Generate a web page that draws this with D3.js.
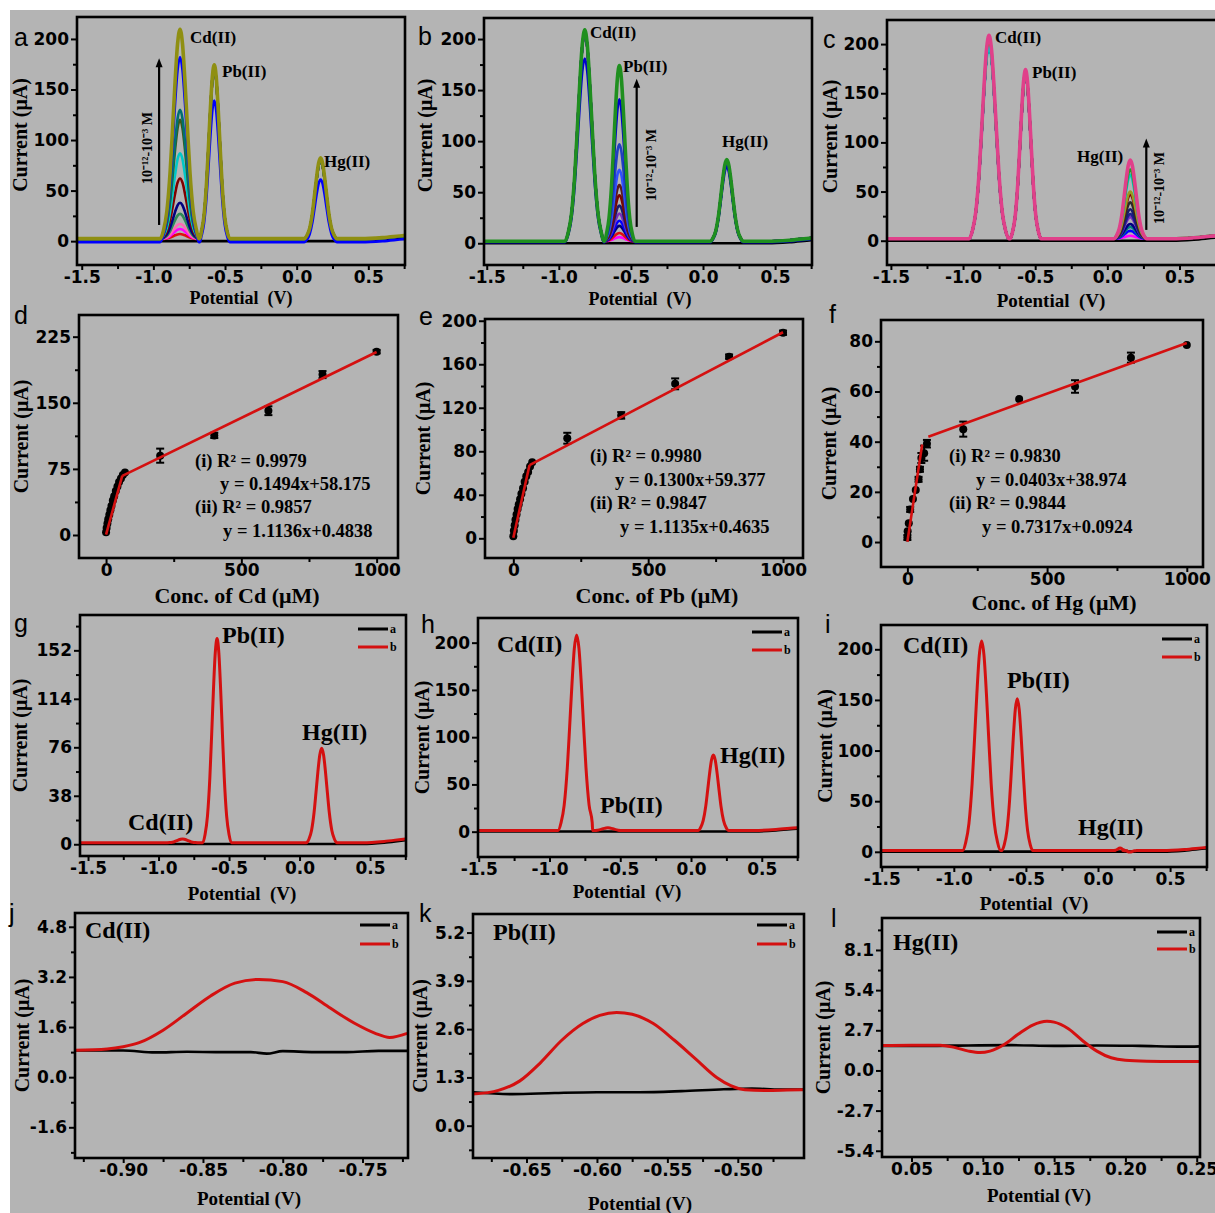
<!DOCTYPE html>
<html><head><meta charset="utf-8">
<script src="https://cdn.jsdelivr.net/npm/d3@7"></script>
<style>body{margin:0;background:#fff} svg{display:block} text{white-space:pre}</style>
</head><body>
<script>
// ================= DATA =================
// Shared square-wave peak shape (offset in V, relative height)
const peakDV  = [-0.12,-0.10,-0.08,-0.06,-0.045,-0.03,-0.015,0,0.015,0.03,0.045,0.06,0.08,0.10,0.12];
const peakRel = [0,0.04,0.13,0.32,0.53,0.75,0.93,1,0.93,0.75,0.53,0.32,0.13,0.04,0];
const tailX    = [0.45, 0.60, 0.75, 0.80];
const tailRise = [0, 1, 3, 3.5];

// Panel a : Cd(II) concentration series (peaks: Cd, Pb, Hg)
const aCenters = [-0.814, -0.575, 0.167];
const aWidths  = [1.15, 0.9, 0.95];
const aColors  = ["#000000","#e01010","#ff00ff","#ff69b4","#2e8b57","#000080","#800000","#00c8c8","#3a5a1a","#007070","#0000ff","#8f8f12"];
const aCd      = [0, 5, 10, 15, 25, 36, 60, 85, 118, 128, 183, 207];
const aPb      = [0, 170,170,170,170,170,170,170,170,170,140,172];
const aHg      = [0, 78, 78, 78, 78, 78, 78, 78, 78, 78, 62, 80];
const aBase    = [0, 2, 2, 2, 2, 2, 2, 2, 2, 2, -1, 2.5];

// Panel b : Pb(II) concentration series
const bCenters = [-0.82, -0.58, 0.165];
const bWidths  = [1.15, 0.9, 0.95];
const bColors  = ["#000000","#ff00ff","#e01010","#000080","#0000ff","#7b2fbe","#191970","#800000","#5c1a1a","#3050ff","#2040c0","#0000cd","#1f8f1f"];
const bCd      = [0, 205,205,205,205,205,205,205,205,205,205,180,207];
const bPb      = [0, 4, 8, 15, 20, 27, 35, 45, 55, 70, 95, 140, 172];
const bHg      = [0, 78, 78, 78, 78, 78, 78, 78, 78, 78, 78, 74, 80];
const bBase    = [0, 2, 2, 2, 2, 2, 2, 2, 2, 2, 2, 1, 2];

// Panel c : Hg(II) concentration series
const cCenters = [-0.82, -0.567, 0.159];
const cWidths  = [1.15, 0.9, 0.95];
const cColors  = ["#000000","#ff00ff","#0000ff","#008080","#000080","#7b2fbe","#1e1e8c","#191970","#2a2a2a","#800000","#9a9a20","#00c8c8","#22a022","#e0408a"];
const cCd      = [0, 200,200,200,200,200,200,200,200,200,200,195,205,207];
const cPb      = [0, 168,168,168,168,168,168,168,168,168,168,168,170,172];
const cHg      = [0, 3, 8, 12, 15, 22, 25, 30, 37, 45, 48, 65, 70, 80];
const cBase    = [0, 2, 2, 2, 2, 2, 2, 2, 2, 2, 2, 2, 2.5, 2];

// Arrows + concentration label (x in V, y from..to in µA)
const arrowX   = [-0.96, -0.46, 0.27];
const arrowY0  = [16, 16, 11];
const arrowY1  = [181, 161, 104];
const concLabel = "10⁻¹²-10⁻³ M";

// Panels d–f : calibration points
const dConc = [0,2,5,8,12,16,20,25,30,36,42,48,55,62,70,200,400,600,800,1000];
const dCur  = [3,8,13,18,23,28,33,39,44,50,55,60,64,68,71,90,113,141,182,208];
const dErr  = [0,0,0,0,0,0,0,0,0,0,0,0,0,0,0,8,3,5,4,2];
const dFitX = [[0,60],[60,1000]];
const dFitY = [[0.5,67.3],[67.1,207.6]];
const dEq   = ["(i) R² = 0.9979","y = 0.1494x+58.175","(ii) R² = 0.9857","y = 1.1136x+0.4838"];

const eConc = [0,2,5,8,12,16,20,25,30,36,42,48,55,62,70,200,400,600,800,1000];
const eCur  = [2,7,12,17,22,27,31,36,41,46,52,57,61,66,70,92,113,142,167,189];
const eErr  = [0,0,0,0,0,0,0,0,0,0,0,0,0,0,0,5,3,5,2,2];
const eFitX = [[0,60],[60,1000]];
const eFitY = [[0.5,67.3],[67.2,189.4]];
const eEq   = ["(i) R² = 0.9980","y = 0.1300x+59.377","(ii) R² = 0.9847","y = 1.1135x+0.4635"];

const fConc = [0,1,5,10,20,30,40,45,50,60,70,200,400,600,800,1000];
const fCur  = [1.8,4.3,7.5,13,17.2,20.7,25,29,33.5,35.4,39.2,45,57,62,73.5,78.5];
const fErr  = [1,0,0,1,0,0,1,1,2,3,1.5,3,0,2.5,2,0];
const fFitX = [[0,53],[75,1000]];
const fFitY = [[0.1,38.9],[42,79.3]];
const fEq   = ["(i) R² = 0.9830","y = 0.0403x+38.974","(ii) R² = 0.9844","y = 0.7317x+0.0924"];

// Panels g–i : interference tests (curve a = black blank, curve b = red)
const gCenters = [-0.83, -0.585, 0.157]; const gWidths = [0.9, 0.85, 0.9]; const gRed = [3, 160, 74];
const hCenters = [-0.808, -0.587, 0.158]; const hWidths = [1.1, 0.9, 0.9]; const hRed = [207, 3, 80];
const iCenters = [-0.807, -0.56, 0.153, 0.22]; const iWidths = [1.1, 0.9, 0.4, 0.4]; const iRed = [207, 150, 2.5, -1.5];
const ghiRedBase = 1.2, ghiBlackBase = 0.2;

// Panels j–l : zoomed peaks
const jBlackX = [-0.93,-0.9,-0.88,-0.86,-0.84,-0.82,-0.81,-0.8,-0.78,-0.76,-0.74,-0.722];
const jBlackY = [0.85,0.85,0.79,0.81,0.8,0.8,0.75,0.83,0.8,0.8,0.84,0.84];
const jRedX = [-0.93,-0.91,-0.9,-0.89,-0.875,-0.86,-0.845,-0.83,-0.815,-0.80,-0.785,-0.77,-0.755,-0.742,-0.733,-0.722];
const jRedY = [0.86,0.9,0.97,1.1,1.5,2.05,2.6,3.0,3.12,3.05,2.7,2.2,1.72,1.4,1.27,1.4];

const kBlackX = [-0.688,-0.66,-0.63,-0.6,-0.57,-0.54,-0.51,-0.49,-0.47,-0.453];
const kBlackY = [0.9,0.85,0.88,0.9,0.9,0.93,0.98,1.0,0.97,0.97];
const kRedX = [-0.688,-0.67,-0.655,-0.64,-0.625,-0.61,-0.598,-0.586,-0.575,-0.56,-0.545,-0.53,-0.515,-0.505,-0.495,-0.48,-0.465,-0.453];
const kRedY = [0.85,0.95,1.2,1.7,2.3,2.75,2.97,3.05,3.0,2.75,2.3,1.8,1.3,1.08,0.97,0.95,0.96,0.97];

const lBlackX = [0.029,0.06,0.09,0.12,0.15,0.18,0.21,0.24,0.2523];
const lBlackY = [1.65,1.65,1.68,1.7,1.65,1.68,1.65,1.6,1.62];
const lRedX = [0.029,0.05,0.07,0.08,0.09,0.098,0.105,0.115,0.125,0.135,0.145,0.15,0.16,0.17,0.18,0.19,0.2,0.215,0.235,0.2523];
const lRedY = [1.68,1.7,1.7,1.55,1.3,1.2,1.3,1.75,2.45,3.05,3.3,3.25,2.8,2.0,1.3,0.85,0.68,0.62,0.6,0.6];

// Tick values
const potTicks = [-1.5,-1,-0.5,0,0.5], potMinor = [-1.25,-0.75,-0.25,0.25,0.75];
const i200 = [0,50,100,150,200], i200m = [25,75,125,175];
const concTicks = [0,500,1000], concMinor = [250,750];

// ================= DRAWING =================
const W = 1215, H = 1213;
const BG = "#b4b4b4";
const TICKFONT = "'DejaVu Sans', sans-serif";
const SERIF = "'Liberation Serif','Times New Roman',serif";
const SANS = "'Liberation Sans', Arial, sans-serif";
const RED = "#d41010";

const svg = d3.select("body").append("svg").attr("width", W).attr("height", H);
svg.append("rect").attr("width", W).attr("height", H).attr("fill", "#fff");
svg.append("rect").attr("x", 10).attr("y", 10).attr("width", W - 10).attr("height", H - 10).attr("fill", BG);

let clipN = 0;
function panel(o) {
  const x = d3.scaleLinear().domain(o.xd).range([o.l, o.r]);
  const y = d3.scaleLinear().domain(o.yd).range([o.b, o.t]);
  const id = "clip" + (clipN++);
  svg.append("clipPath").attr("id", id).append("rect")
    .attr("x", o.l).attr("y", o.t).attr("width", o.r - o.l).attr("height", o.b - o.t);
  const ax = svg.append("g");
  ax.append("g").attr("transform", `translate(0,${o.b})`)
    .call(d3.axisBottom(x).tickValues(o.xMinor).tickSize(4).tickFormat(""));
  ax.append("g").attr("transform", `translate(${o.l},0)`)
    .call(d3.axisLeft(y).tickValues(o.yMinor).tickSize(4).tickFormat(""));
  ax.append("g").attr("transform", `translate(0,${o.b})`)
    .call(d3.axisBottom(x).tickValues(o.xTicks).tickSize(5).tickPadding(1).tickFormat(o.xFmt));
  ax.append("g").attr("transform", `translate(${o.l},0)`)
    .call(d3.axisLeft(y).tickValues(o.yTicks).tickSize(6).tickPadding(2).tickFormat(o.yFmt));
  ax.selectAll(".domain").remove();
  ax.selectAll(".tick line").attr("stroke", "#000").attr("stroke-width", 2);
  ax.selectAll(".tick text").attr("font-family", TICKFONT).attr("font-weight", "bold")
    .attr("font-size", 17).attr("fill", "#000");
  const plot = svg.append("g").attr("clip-path", `url(#${id})`);
  svg.append("rect").attr("x", o.l).attr("y", o.t).attr("width", o.r - o.l).attr("height", o.b - o.t)
    .attr("fill", "none").attr("stroke", "#000").attr("stroke-width", 2.6);
  // axis titles
  svg.append("text").attr("x", o.xtX).attr("y", o.xtY).attr("text-anchor", "middle")
    .attr("font-family", SERIF).attr("font-weight", "bold").attr("font-size", o.xtSize || 19)
    .text(o.xTitle);
  svg.append("text").attr("transform", `translate(${o.ytX},${(o.t + o.b) / 2 + (o.ytDy || 0)}) rotate(-90)`)
    .attr("text-anchor", "middle").attr("dy", "0.35em")
    .attr("font-family", SERIF).attr("font-weight", "bold").attr("font-size", 20)
    .text("Current (μA)");
  // panel letter
  svg.append("text").attr("x", o.letX).attr("y", o.letY).attr("font-family", SANS)
    .attr("font-size", 25).text(o.letter);
  return { x, y, plot };
}

const f1 = d => d.toFixed(1), f0 = d => d.toFixed(0), f2 = d => d.toFixed(2);
const lineGen = (p) => d3.line().x(d => p.x(d[0])).y(d => p.y(d[1])).curve(d3.curveMonotoneX);

function swvCurve(centers, widths, heights, base, x0) {
  const pts = [[x0, base]];
  centers.forEach((c, i) => {
    if (!heights[i]) return;
    peakDV.forEach((dv, j) => pts.push([c + dv * widths[i], base + heights[i] * peakRel[j]]));
  });
  tailX.forEach((tx, j) => pts.push([tx, base + tailRise[j]]));
  pts.sort((p, q) => p[0] - q[0]);
  return pts;
}

function label(x, y, txt, size) {
  svg.append("text").attr("x", x).attr("y", y).attr("font-family", SERIF)
    .attr("font-weight", "bold").attr("font-size", size).text(txt);
}

// ---------- Row 1 : a, b, c ----------
function seriesPanel(p, centers, widths, colors, c1, c2, c3, base) {
  colors.forEach((col, k) => {
    const pts = swvCurve(centers, widths, [c1[k], c2[k], c3[k]], base[k], -1.6);
    p.plot.append("path").attr("d", lineGen(p)(pts)).attr("fill", "none")
      .attr("stroke", col).attr("stroke-width", k === colors.length - 1 ? 3.6 : 2.6)
      .attr("stroke-linejoin", "round");
  });
}
function arrow(p, i, tx, ty) {
  const X = p.x(arrowX[i]), Y0 = p.y(arrowY0[i]), Y1 = p.y(arrowY1[i]);
  svg.append("line").attr("x1", X).attr("x2", X).attr("y1", Y0).attr("y2", Y1 + 6)
    .attr("stroke", "#000").attr("stroke-width", 2.2);
  svg.append("path").attr("d", `M${X},${Y1} L${X - 3.5},${Y1 + 9} L${X + 3.5},${Y1 + 9} Z`).attr("fill", "#000");
  svg.append("text").attr("transform", `translate(${tx},${ty}) rotate(-90)`).attr("text-anchor", "middle")
    .attr("dy", "0.35em").attr("font-family", SERIF).attr("font-weight", "bold").attr("font-size", 14)
    .text(concLabel);
}

const pa = panel({ l: 77, t: 17, r: 405, b: 265, xd: [-1.533, 0.756], yd: [-23.6, 221.7],
  xTicks: potTicks, xMinor: potMinor, yTicks: i200, yMinor: i200m, xFmt: f1, yFmt: f0,
  xTitle: "Potential  (V)", xtSize: 18, xtX: 241, xtY: 304, ytX: 20, ytDy: -6, letter: "a", letX: 14, letY: 46 });
seriesPanel(pa, aCenters, aWidths, aColors, aCd, aPb, aHg, aBase);
arrow(pa, 0, 147, 148);
label(190, 43, "Cd(II)", 17); label(222, 77, "Pb(II)", 17); label(324, 167, "Hg(II)", 17);

const pb = panel({ l: 484, t: 18, r: 812, b: 265, xd: [-1.519, 0.756], yd: [-21.3, 220.6],
  xTicks: potTicks, xMinor: potMinor, yTicks: i200, yMinor: i200m, xFmt: f1, yFmt: f0,
  xTitle: "Potential  (V)", xtSize: 18, xtX: 640, xtY: 305, ytX: 425, ytDy: -6, letter: "b", letX: 418, letY: 45 });
seriesPanel(pb, bCenters, bWidths, bColors, bCd, bPb, bHg, bBase);
arrow(pb, 1, 651, 165);
label(590, 38, "Cd(II)", 17); label(623, 72, "Pb(II)", 17); label(722, 147, "Hg(II)", 17);

const pc = panel({ l: 887, t: 20, r: 1217, b: 265, xd: [-1.527, 0.76], yd: [-24.7, 224.5],
  xTicks: potTicks, xMinor: potMinor, yTicks: i200, yMinor: i200m, xFmt: f1, yFmt: f0,
  xTitle: "Potential  (V)", xtX: 1051, xtY: 307, ytX: 830, ytDy: -6, letter: "c", letX: 823, letY: 48 });
seriesPanel(pc, cCenters, cWidths, cColors, cCd, cPb, cHg, cBase);
arrow(pc, 2, 1159, 188);
label(995, 43, "Cd(II)", 17); label(1032, 78, "Pb(II)", 17); label(1077, 162, "Hg(II)", 17);

// ---------- Row 2 : d, e, f ----------
function calibPanel(p, conc, cur, err, fitX, fitY) {
  conc.forEach((c, k) => {
    if (err[k] > 0) {
      const X = p.x(c), Ya = p.y(cur[k] - err[k]), Yb = p.y(cur[k] + err[k]);
      p.plot.append("line").attr("x1", X).attr("x2", X).attr("y1", Ya).attr("y2", Yb).attr("stroke", "#000").attr("stroke-width", 2);
      [Ya, Yb].forEach(Yc => p.plot.append("line").attr("x1", X - 4).attr("x2", X + 4).attr("y1", Yc).attr("y2", Yc)
        .attr("stroke", "#000").attr("stroke-width", 2));
    }
  });
  p.plot.selectAll("circle.pt").data(conc).enter().append("circle")
    .attr("cx", (c) => p.x(c)).attr("cy", (c, k) => p.y(cur[k])).attr("r", 4).attr("fill", "#000");
  fitX.forEach((fx, k) => {
    p.plot.append("line").attr("x1", p.x(fx[0])).attr("x2", p.x(fx[1]))
      .attr("y1", p.y(fitY[k][0])).attr("y2", p.y(fitY[k][1]))
      .attr("stroke", RED).attr("stroke-width", 2.6);
  });
}
function eqText(xs, ys, lines) {
  lines.forEach((t, k) => label(xs[k], ys[k], t, 18.5));
}

const pd = panel({ l: 79, t: 315, r: 398, b: 558, xd: [-100, 1079], yd: [-26.1, 249.6],
  xTicks: concTicks, xMinor: concMinor, yTicks: [0,75,150,225], yMinor: [37.5,112.5,187.5], xFmt: f0, yFmt: f0,
  xTitle: "Conc. of Cd (μM)", xtSize: 22, xtX: 237, xtY: 603, ytX: 21, letter: "d", letX: 14, letY: 324 });
calibPanel(pd, dConc, dCur, dErr, dFitX, dFitY);
eqText([195, 220, 195, 223], [467, 490, 513, 537], dEq);

const pe = panel({ l: 485, t: 319, r: 803, b: 558, xd: [-105, 1074], yd: [-18.1, 201.6],
  xTicks: concTicks, xMinor: concMinor, yTicks: [0,40,80,120,160,200], yMinor: [20,60,100,140,180], xFmt: f0, yFmt: f0,
  xTitle: "Conc. of Pb (μM)", xtSize: 22, xtX: 657, xtY: 603, ytX: 423, letter: "e", letX: 419, letY: 325 });
calibPanel(pe, eConc, eCur, eErr, eFitX, eFitY);
eqText([590, 615, 590, 620], [462, 486, 509, 533], eEq);

const pf = panel({ l: 881, t: 320, r: 1203, b: 567, xd: [-94.4, 1058], yd: [-9.95, 88.5],
  xTicks: concTicks, xMinor: concMinor, yTicks: [0,20,40,60,80], yMinor: [10,30,50,70], xFmt: f0, yFmt: f0,
  xTitle: "Conc. of Hg (μM)", xtSize: 22, xtX: 1054, xtY: 610, ytX: 829, letter: "f", letX: 829, letY: 323 });
calibPanel(pf, fConc, fCur, fErr, fFitX, fFitY);
eqText([949, 976, 949, 982], [462, 486, 509, 533], fEq);

// ---------- Row 3 : g, h, i ----------
function legend(xL, yA, yB) {
  [[yA, "#000", "a"], [yB, RED, "b"]].forEach(([yy, col, t]) => {
    svg.append("line").attr("x1", xL).attr("x2", xL + 30).attr("y1", yy).attr("y2", yy)
      .attr("stroke", col).attr("stroke-width", 3);
    svg.append("text").attr("x", xL + 32).attr("y", yy + 4).attr("font-family", SERIF)
      .attr("font-weight", "bold").attr("font-size", 12).text(t);
  });
}
function interfPanel(p, centers, widths, red) {
  const blk = swvCurve([], [], [], ghiBlackBase, -1.6);
  p.plot.append("path").attr("d", lineGen(p)(blk)).attr("fill", "none").attr("stroke", "#000").attr("stroke-width", 2.6);
  const rp = swvCurve(centers, widths, red, ghiRedBase, -1.6);
  p.plot.append("path").attr("d", lineGen(p)(rp)).attr("fill", "none").attr("stroke", RED).attr("stroke-width", 3);
}

const pg = panel({ l: 80, t: 615, r: 406, b: 856, xd: [-1.557, 0.755], yd: [-9.2, 179.7],
  xTicks: potTicks, xMinor: potMinor, yTicks: [0,38,76,114,152], yMinor: [19,57,95,133,171], xFmt: f1, yFmt: f0,
  xTitle: "Potential  (V)", xtX: 242, xtY: 900, ytX: 20, letter: "g", letX: 14, letY: 632 });
interfPanel(pg, gCenters, gWidths, gRed);
legend(358, 629, 647);
label(222, 643, "Pb(II)", 24); label(302, 740, "Hg(II)", 24); label(128, 830, "Cd(II)", 24);

const ph = panel({ l: 478, t: 618, r: 798, b: 857, xd: [-1.505, 0.756], yd: [-26.8, 226.1],
  xTicks: potTicks, xMinor: potMinor, yTicks: i200, yMinor: i200m, xFmt: f1, yFmt: f0,
  xTitle: "Potential  (V)", xtX: 627, xtY: 898, ytX: 422, letter: "h", letX: 421, letY: 633 });
interfPanel(ph, hCenters, hWidths, hRed);
legend(752, 632, 650);
label(497, 652, "Cd(II)", 24); label(600, 813, "Pb(II)", 24); label(720, 763, "Hg(II)", 24);

const pi = panel({ l: 881, t: 625, r: 1207, b: 867, xd: [-1.505, 0.756], yd: [-15, 224],
  xTicks: potTicks, xMinor: potMinor, yTicks: i200, yMinor: i200m, xFmt: f1, yFmt: f0,
  xTitle: "Potential  (V)", xtX: 1034, xtY: 910, ytX: 825, letter: "i", letX: 825, letY: 633 });
interfPanel(pi, iCenters, iWidths, iRed);
legend(1162, 639, 657);
label(903, 653, "Cd(II)", 24); label(1007, 688, "Pb(II)", 24); label(1078, 835, "Hg(II)", 24);

// ---------- Row 4 : j, k, l ----------
function zoomPanel(p, bx, by, rx, ry) {
  const lg = d3.line().x(d => p.x(d[0])).y(d => p.y(d[1])).curve(d3.curveMonotoneX);
  p.plot.append("path").attr("d", lg(bx.map((v, k) => [v, by[k]]))).attr("fill", "none")
    .attr("stroke", "#000").attr("stroke-width", 2.6);
  p.plot.append("path").attr("d", lg(rx.map((v, k) => [v, ry[k]]))).attr("fill", "none")
    .attr("stroke", RED).attr("stroke-width", 3);
}

const pj = panel({ l: 75, t: 913, r: 408, b: 1158, xd: [-0.9302, -0.7215], yd: [-2.58, 5.24],
  xTicks: [-0.9,-0.85,-0.8,-0.75], xMinor: [-0.925,-0.875,-0.825,-0.775,-0.725],
  yTicks: [-1.6,0,1.6,3.2,4.8], yMinor: [-2.4,-0.8,0.8,2.4,4.0], xFmt: f2, yFmt: f1,
  xTitle: "Potential (V)", xtX: 249, xtY: 1205, ytX: 22, letter: "j", letX: 9, letY: 922 });
zoomPanel(pj, jBlackX, jBlackY, jRedX, jRedY);
legend(360, 925, 944);
label(85, 938, "Cd(II)", 24);

const pk = panel({ l: 473, t: 914, r: 804, b: 1158, xd: [-0.688, -0.453], yd: [-0.87, 5.70],
  xTicks: [-0.65,-0.6,-0.55,-0.5], xMinor: [-0.675,-0.625,-0.575,-0.525,-0.475],
  yTicks: [0,1.3,2.6,3.9,5.2], yMinor: [-0.65,0.65,1.95,3.25,4.55], xFmt: f2, yFmt: f1,
  xTitle: "Potential (V)", xtX: 640, xtY: 1210, ytX: 420, letter: "k", letX: 419, letY: 922 });
zoomPanel(pk, kBlackX, kBlackY, kRedX, kRedY);
legend(757, 925, 944);
label(493, 940, "Pb(II)", 24);

const pl = panel({ l: 882, t: 918, r: 1200, b: 1157, xd: [0.0293, 0.2523], yd: [-5.82, 10.25],
  xTicks: [0.05,0.1,0.15,0.2,0.25], xMinor: [0.075,0.125,0.175,0.225],
  yTicks: [-5.4,-2.7,0,2.7,5.4,8.1], yMinor: [-4.05,-1.35,1.35,4.05,6.75,9.45], xFmt: f2, yFmt: f1,
  xTitle: "Potential (V)", xtX: 1039, xtY: 1202, ytX: 823, letter: "l", letX: 831, letY: 927 });
zoomPanel(pl, lBlackX, lBlackY, lRedX, lRedY);
legend(1157, 932, 949);
label(893, 950, "Hg(II)", 24);
</script>
</body></html>
